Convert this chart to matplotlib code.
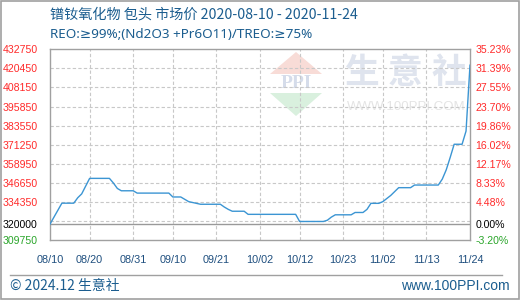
import pandas as pd
import matplotlib.pyplot as plt
import matplotlib.dates as mdates
from matplotlib.patches import Polygon
from matplotlib.lines import Line2D

# Данные графика
dates = ["2020-08-10", "2020-08-11", "2020-08-12", "2020-08-13", "2020-08-16",
         "2020-08-17", "2020-08-18", "2020-08-20", "2020-08-25", "2020-08-26",
         "2020-08-27", "2020-08-28", "2020-08-31", "2020-09-01", "2020-09-09",
         "2020-09-10", "2020-09-12", "2020-09-13", "2020-09-14", "2020-09-17",
         "2020-09-22", "2020-09-23", "2020-09-24", "2020-09-25", "2020-09-28",
         "2020-09-29", "2020-10-11", "2020-10-12", "2020-10-18", "2020-10-19",
         "2020-10-20", "2020-10-21", "2020-10-25", "2020-10-26", "2020-10-28",
         "2020-10-29", "2020-10-30", "2020-11-01", "2020-11-02", "2020-11-03",
         "2020-11-04", "2020-11-05", "2020-11-06", "2020-11-09", "2020-11-10",
         "2020-11-16", "2020-11-17", "2020-11-18", "2020-11-19", "2020-11-20",
         "2020-11-22", "2020-11-23", "2020-11-24"]
prices = [320000, 324500, 329000, 333500, 333500,
          337000, 339500, 349500, 349500, 346500,
          343000, 341500, 341500, 340000, 340000,
          337500, 337500, 336000, 334500, 332800,
          332800, 331000, 329500, 328300, 328300,
          326300, 326300, 321700, 321700, 322500,
          324500, 326000, 326000, 327500, 327500,
          329500, 333400, 333400, 334500, 336500,
          338500, 341000, 343500, 343500, 345200,
          345200, 349000, 355000, 363000, 371500,
          371500, 380000, 422500]

base_price = 320000
y_ticks = [432750, 420450, 408150, 395850, 383550, 371250, 358950,
           346650, 334350, 320000, 309750]
grid_step = 12300
x_ticks = ["2020-08-10", "2020-08-20", "2020-08-31", "2020-09-10", "2020-09-21",
           "2020-10-02", "2020-10-12", "2020-10-23", "2020-11-02", "2020-11-13",
           "2020-11-24"]

title = "镨钕氧化物 包头 市场价 2020-08-10 - 2020-11-24"
subtitle = "REO:≥99%;(Nd2O3 +Pr6O11)/TREO:≥75%"

dates = pd.to_datetime(dates)
x_ticks = pd.to_datetime(x_ticks)

blue_text = "#1b5d8f"
red = "#ff2a2a"
green = "#2aa52a"

fig = plt.figure(figsize=(5.2, 3.0), dpi=100)
ax = fig.add_axes([50 / 520, 60 / 300, 420 / 520, 190.7 / 300])

ymin, ymax = y_ticks[-1], y_ticks[0]
ax.set_ylim(ymin, ymax)
ax.set_xlim(dates[0], dates[-1])

# Сетка
y = ymax - grid_step
while y > ymin + 1:
    ax.axhline(y, color="#c8c8c8", lw=0.8, ls=(0, (3, 2)), zorder=1)
    y -= grid_step
for d in x_ticks[1:-1]:
    ax.axvline(d, color="#c8c8c8", lw=0.8, ls=(0, (3, 2)), zorder=1)
ax.axhline(base_price, color="#999999", lw=1.0, zorder=2)

# Водяной знак
def px(x, y):
    return ((x - 50) / 420, (240 - y) / 190.7)

ax.add_patch(Polygon([px(296, 52), px(270, 74), px(322, 74)], closed=True,
                     transform=ax.transAxes, color="#f8dcd7", lw=0, zorder=0))
ax.add_patch(Polygon([px(270, 93), px(322, 93), px(296, 116)], closed=True,
                     transform=ax.transAxes, color="#d9f0de", lw=0, zorder=0))
ax.text(*px(296, 83), "PPI", transform=ax.transAxes, ha="center", va="center",
        fontsize=14, family="Liberation Serif", weight="bold", color="#d5dcea", zorder=0)
for cx, ch in zip([362, 405, 449], "生意社"):
    ax.text(*px(cx, 72), ch, transform=ax.transAxes, ha="center", va="center",
            fontsize=25, family="Noto Sans CJK SC", weight="bold",
            color="#dfe4ee", zorder=0)
ax.text(*px(406, 107), "WWW.100PPI.COM", transform=ax.transAxes, ha="center",
        va="center", fontsize=9.5, family="Liberation Sans", color="#e4e4e4", zorder=0)

# Линия цены
ax.plot(dates, prices, color="#3b95d3", lw=1.0, zorder=3)

# Оси
for s in ax.spines.values():
    s.set_color("#a0a0a0")
    s.set_linewidth(1.0)
ax.tick_params(length=0)

ax.set_xticks(x_ticks)
ax.xaxis.set_major_formatter(mdates.DateFormatter("%m/%d"))
ax.tick_params(axis="x", pad=11, labelsize=7.8, labelcolor="#1f4f7f")
for lab in ax.get_xticklabels():
    lab.set_family("Liberation Sans")

def tick_color(v):
    if v > base_price:
        return red
    if v < base_price:
        return green
    return "black"

ax.set_yticks(y_ticks)
ax.set_yticklabels([str(v) for v in y_ticks], family="Liberation Sans", fontsize=7.6)
ax.tick_params(axis="y", pad=9)
for lab, v in zip(ax.get_yticklabels(), y_ticks):
    lab.set_color(tick_color(v))

ax2 = ax.twinx()
ax2.set_ylim(ymin, ymax)
ax2.set_yticks(y_ticks)
ax2.set_yticklabels([f"{(v / base_price - 1) * 100:.2f}%" for v in y_ticks],
                    family="Liberation Sans", fontsize=7.6)
ax2.tick_params(length=0, pad=4)
for lab, v in zip(ax2.get_yticklabels(), y_ticks):
    lab.set_color(tick_color(v))
for s in ax2.spines.values():
    s.set_visible(False)

# Заголовки
fig.text(50 / 520, 1 - 15 / 300, title, ha="left", va="center", fontsize=10.2,
         family=["Noto Sans CJK SC", "DejaVu Sans"], color=blue_text)
fig.text(50 / 520, 1 - 34 / 300, subtitle, ha="left", va="center", fontsize=9.7,
         family=["Noto Sans", "DejaVu Sans"], color=blue_text)

# Подвал
fig.add_artist(Line2D([10 / 520, 502 / 520], [1 - 275 / 300, 1 - 275 / 300],
                      color="#a0a0a0", lw=1.0))
fig.text(10 / 520, 1 - 286 / 300, "© 2024.12 生意社", ha="left", va="center",
         fontsize=10, family=["Noto Sans CJK SC", "DejaVu Sans"], color=blue_text)
fig.text(510 / 520, 1 - 286 / 300, "www.100PPI.com", ha="right", va="center",
         fontsize=10, family="Liberation Sans", color=blue_text)

# Рамка вокруг картинки
fig.add_artist(plt.Rectangle((0.001, 0.002), 0.997, 0.996, transform=fig.transFigure,
                             fill=False, edgecolor="#a0a0a0", lw=1.2))

fig.savefig("out.png", dpi=100)
